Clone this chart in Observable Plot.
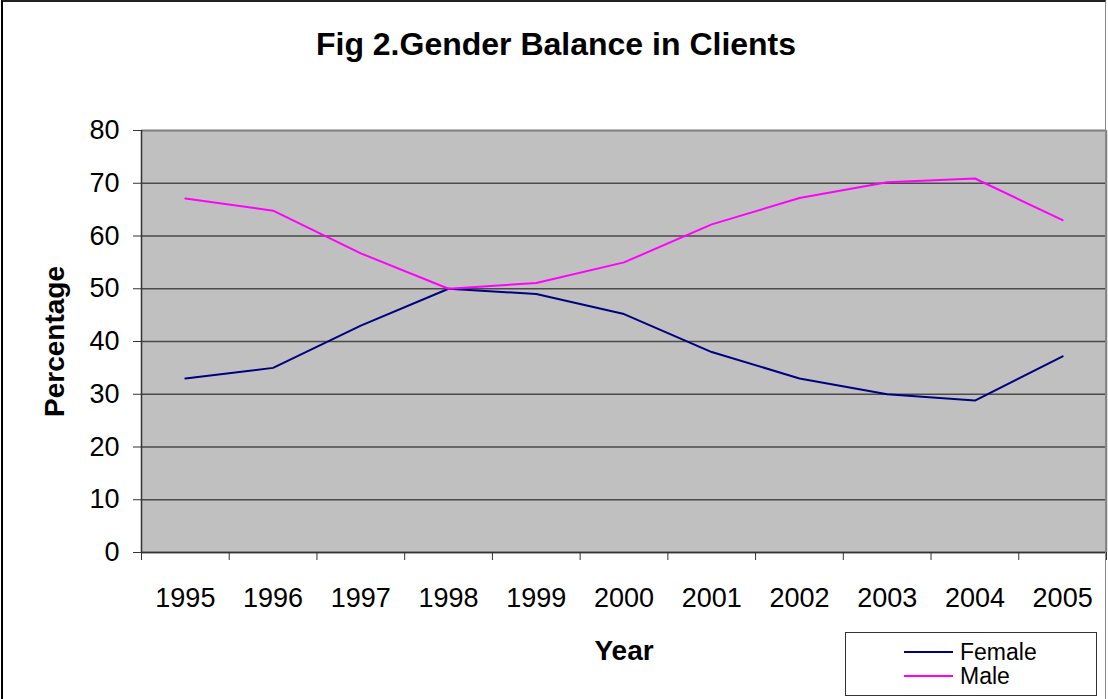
<!DOCTYPE html>
<html>
<head>
<meta charset="utf-8">
<script src="https://cdn.jsdelivr.net/npm/d3@7"></script>
<script src="https://cdn.jsdelivr.net/npm/@observablehq/plot@0.6"></script>
<style>
  html, body { margin: 0; padding: 0; background: #fff; }
  #wrap { position: relative; width: 1108px; height: 699px; overflow: hidden; font-family: "Liberation Sans", Arial, sans-serif; }
  #chart { position: absolute; left: 0; top: 0; }
  #border { position: absolute; left: 1px; top: 0px; width: 1105px; height: 710px; border-left: 2px solid #000; border-top: 2px solid #222; border-right: 1px solid #888; box-sizing: border-box; pointer-events: none; }
  #title { position: absolute; left: 0; top: 28px; width: 1112px; text-align: center; font-size: 32px; font-weight: bold; line-height: 32px; color: #000; }
  #legend { position: absolute; left: 845px; top: 632px; width: 252px; height: 64px; box-sizing: border-box; border: 1px solid #333; background: #fff; padding-top: 7px; }
  .row { display: flex; align-items: center; height: 24px; font-size: 23px; line-height: 22px; color: #000; }
  .sw { margin-left: 58px; width: 49px; height: 2px; margin-right: 7px; }
</style>
</head>
<body>
<div id="wrap">
  <div id="chart"></div>
  <div id="border"></div>
  <div id="title"></div>
  <div id="legend"></div>
</div>
<script>
const titleText = "Fig 2.Gender Balance in Clients";
const years = [1995, 1996, 1997, 1998, 1999, 2000, 2001, 2002, 2003, 2004, 2005];
const female = [33, 35, 43, 50, 49, 45.2, 38, 33, 30, 28.8, 37.2];
const male = [67.1, 64.8, 56.7, 50, 51.1, 55, 62.2, 67.2, 70.2, 70.9, 63];
const yTicks = [0, 10, 20, 30, 40, 50, 60, 70, 80];
const seriesNames = ["Female", "Male"];
const seriesColors = ["#000080", "#ff00ff"];
const yLabel = "Percentage";
const xLabel = "Year";

const data = years.flatMap((yr, i) => [
  {year: yr, value: female[i], series: seriesNames[0]},
  {year: yr, value: male[i], series: seriesNames[1]}
]);
const boundaries = [...years.map(y => y - 0.5), years[years.length - 1] + 0.5];
const xMin = boundaries[0], xMax = boundaries[boundaries.length - 1];
const yMax = yTicks[yTicks.length - 1];

const chart = Plot.plot({
  width: 1108,
  height: 699,
  marginLeft: 141,
  marginRight: 2,
  marginTop: 130,
  marginBottom: 147,
  style: {background: "transparent", fontFamily: "'Liberation Sans', Arial, sans-serif", color: "#000"},
  x: {domain: [xMin, xMax]},
  y: {domain: [0, yMax]},
  color: {domain: seriesNames, range: seriesColors},
  marks: [
    Plot.frame({fill: "#c0c0c0", stroke: null}),
    Plot.ruleY(yTicks, {stroke: "#4a4a4a", strokeWidth: 1.3}),
    Plot.ruleY([yMax], {stroke: "#808080", strokeWidth: 1.5}),
    Plot.ruleX([xMax], {stroke: "#808080", strokeWidth: 1.5}),
    Plot.ruleX([xMin], {stroke: "#333", strokeWidth: 1.5}),
    Plot.ruleY([0], {stroke: "#333", strokeWidth: 1.5}),
    Plot.axisY({ticks: yTicks, tickSize: 8, tickPadding: 14, fontSize: 27, label: null, tickFormat: d => String(d), stroke: "#333"}),
    Plot.axisX({ticks: boundaries, tickSize: 8, tickFormat: () => "", label: null, stroke: "#333"}),
    Plot.axisX({ticks: years, tickSize: 0, tickPadding: 35, fontSize: 27, label: null, tickFormat: d => String(d)}),
    Plot.line(data, {x: "year", y: "value", z: "series", stroke: "series", strokeWidth: 2}),
    Plot.text([yLabel], {text: d => d, frameAnchor: "left", dx: -86, rotate: -90, textAnchor: "middle", fontSize: 28, fontWeight: "bold", fill: "#000"}),
    Plot.text([xLabel], {text: d => d, frameAnchor: "bottom", dy: 107, fontSize: 28, fontWeight: "bold", fill: "#000"})
  ]
});
document.getElementById("chart").appendChild(chart);
document.getElementById("title").textContent = titleText;

const legend = document.getElementById("legend");
seriesNames.forEach((name, i) => {
  const row = document.createElement("div");
  row.className = "row";
  const sw = document.createElement("span");
  sw.className = "sw";
  sw.style.background = seriesColors[i];
  const label = document.createElement("span");
  label.textContent = name;
  row.appendChild(sw);
  row.appendChild(label);
  legend.appendChild(row);
});
</script>
</body>
</html>
